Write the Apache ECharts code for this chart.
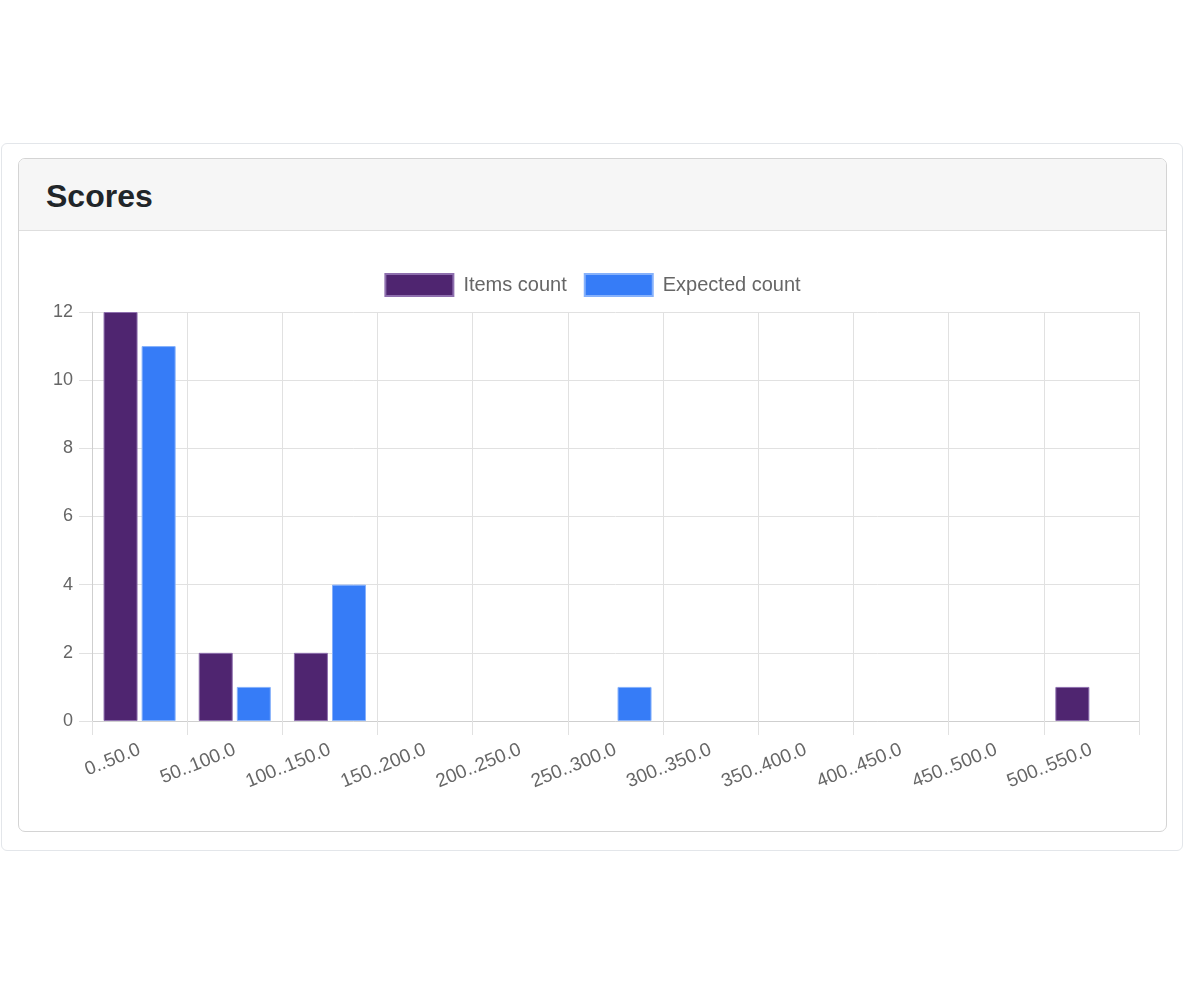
<!DOCTYPE html>
<html>
<head>
<meta charset="utf-8">
<title>Scores</title>
<script src="https://cdn.jsdelivr.net/npm/echarts@6/dist/echarts.min.js"></script>
<style>
    html, body { margin: 0; padding: 0; background: #fff; }
    body { width: 1184px; height: 992px; position: relative; font-family: "Liberation Sans", Arial, sans-serif; }
    .outer {
        position: absolute; left: 1px; top: 143px; width: 1182px; height: 708px;
        border: 1px solid #e3e6ea; border-radius: 6px; box-sizing: border-box;
    }
    .card {
        position: absolute; left: 18px; top: 158px; width: 1149px; height: 674px;
        border: 1px solid #d4d4d4; border-radius: 7px; box-sizing: border-box; overflow: hidden;
    }
    .card-header {
        height: 72px; background: #f6f6f6; border-bottom: 1px solid #dedede; box-sizing: border-box;
        padding-left: 27px; line-height: 74px;
        font-size: 32px; color: #212529; font-weight: bold;
    }
    #chart { position: absolute; left: 0; top: 72px; width: 1147px; height: 600px; }
</style>
</head>
<body>
<div class="outer"></div>
<div class="card">
    <div class="card-header">Scores</div>
    <div id="chart"></div>
</div>
<script>
// 分组区间
var categories = ['0..50.0', '50..100.0', '100..150.0', '150..200.0', '200..250.0', '250..300.0',
    '300..350.0', '350..400.0', '400..450.0', '450..500.0', '500..550.0'];
var itemsCount = [12, 2, 2, 0, 0, 0, 0, 0, 0, 0, 1];
var expectedCount = [11, 1, 4, 0, 0, 1, 0, 0, 0, 0, 0];
var yTicks = [0, 2, 4, 6, 8, 10, 12];

// 零值不画边框
function bar_data(values) {
    return values.map(function (v) {
        return v === 0 ? { value: v, itemStyle: { borderWidth: 0 } } : v;
    });
}

window.onload = function () {
    var myChart = echarts.init(document.getElementById('chart'));
    var gridColor = '#e1e1e1';
    var option = {
        animation: false,
        legend: {
            top: 37,
            left: 'center',
            itemWidth: 68,
            itemHeight: 22,
            itemGap: 17,
            icon: 'rect',
            textStyle: { fontSize: 20, color: '#666', padding: [0, 0, 0, 5], fontFamily: 'Liberation Sans' },
            data: ['Items count', 'Expected count']
        },
        grid: { left: 73, right: 27, top: 81, height: 409 },
        xAxis: {
            type: 'category',
            data: categories,
            axisLine: { lineStyle: { color: '#cfcfcf' } },
            axisTick: { show: true, length: 14, lineStyle: { color: gridColor } },
            splitLine: { show: true, lineStyle: { color: gridColor } },
            axisLabel: { rotate: 22, fontSize: 19, color: '#666', margin: 28, interval: 0, fontFamily: 'Liberation Sans' }
        },
        yAxis: {
            type: 'value',
            min: yTicks[0],
            max: yTicks[yTicks.length - 1],
            interval: 2,
            axisLine: { show: true, lineStyle: { color: '#cfcfcf' } },
            axisTick: { show: true, length: 13, lineStyle: { color: gridColor } },
            splitLine: { lineStyle: { color: gridColor } },
            axisLabel: { fontSize: 18, color: '#666', margin: 19, fontFamily: 'Liberation Sans' }
        },
        series: [
            {
                name: 'Items count',
                type: 'bar',
                data: bar_data(itemsCount),
                barWidth: 34,
                barGap: '12%',
                itemStyle: { color: '#4f2570', borderColor: '#8e6fae', borderWidth: 1 }
            },
            {
                name: 'Expected count',
                type: 'bar',
                data: bar_data(expectedCount),
                barWidth: 34,
                itemStyle: { color: '#367cf7', borderColor: '#86b1fb', borderWidth: 1 }
            }
        ]
    };
    myChart.setOption(option);
}
</script>
</body>
</html>
